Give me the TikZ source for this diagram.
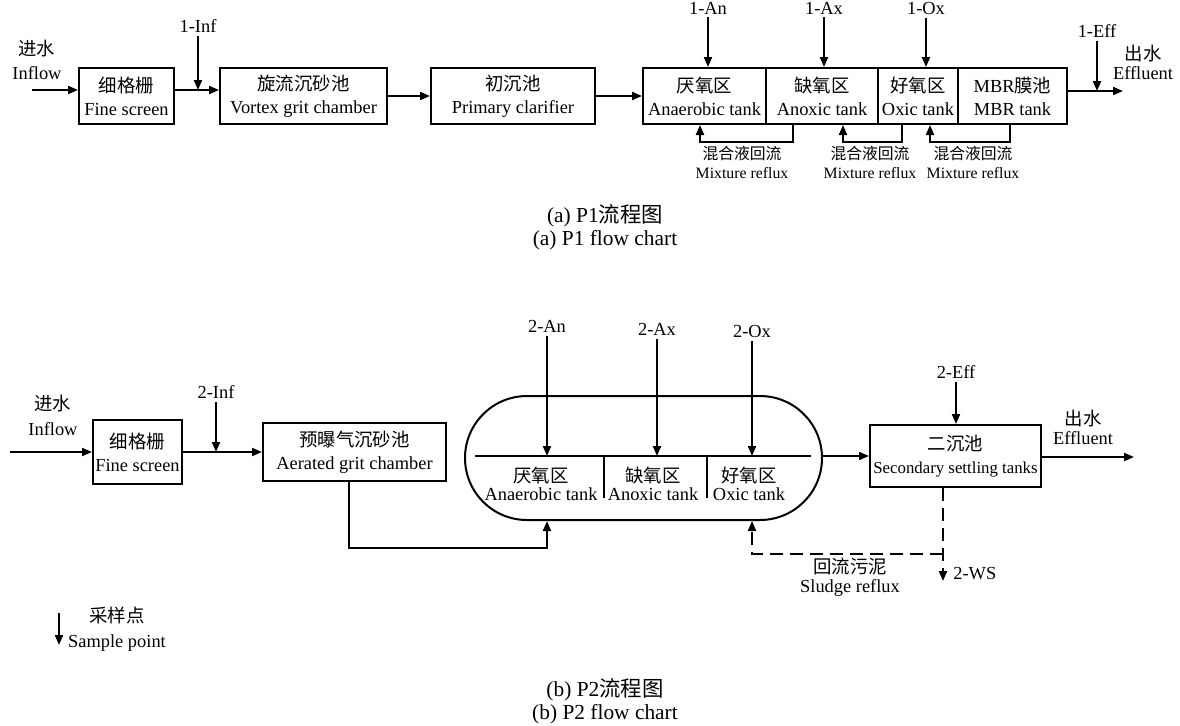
\documentclass[tikz,border=0pt]{standalone}
\usepackage{fontspec}
\setmainfont{Liberation Serif}
\newfontfamily\cjk{Noto Sans CJK SC}
\usepackage{tikz}
\usetikzlibrary{arrows.meta}
\newcommand{\zh}[1]{{\cjk #1}}
\newcommand{\fsp}[1]{\fontsize{9.2}{#1}\selectfont}
\newcommand{\fsmall}{\fontsize{7.9}{9.5}\selectfont}
\newcommand{\fcap}{\fontsize{10.7}{11.3}\selectfont}

\begin{document}
\begin{tikzpicture}[
    x=0.5pt, y=-0.5pt,
    every node/.style={font=\fsp{11.5}},
    box/.style={draw, line width=1pt, inner sep=0pt, align=center, minimum height=28pt},
    lbl/.style={inner sep=1.5pt, align=center},
    arr/.style={-{Triangle[length=5pt,width=4pt]}, line width=1pt},
    ln/.style={line width=1pt},
    dsh/.style={dash pattern=on 6.5pt off 3.5pt},
  ]
    \useasboundingbox (0,0) rectangle (1180,725);

    % (a) P1 process line
    \node[lbl, font=\fsp{12}] (inl1) at (37,60) {\zh{进水}\\Inflow};
    \coordinate (in1) at (32,90);
    \node[box, minimum width=47.5pt] (fs1) at (126.5,96) {\zh{细格栅}\\Fine screen};
    \node[box, minimum width=83.5pt] (vg) at (303.5,96) {\zh{旋流沉砂池}\\Vortex grit chamber};
    \node[box, minimum width=82pt] (pc) at (513,96) {\zh{初沉池}\\Primary clarifier};
    \node[box, minimum width=61.5pt] (an1) at (704.5,96) {\zh{厌氧区}\\Anaerobic tank};
    \node[box, minimum width=56pt] (ax1) at (822,96) {\zh{缺氧区}\\Anoxic tank};
    \node[box, minimum width=40pt] (ox1) at (918,96) {\zh{好氧区}\\Oxic tank};
    \node[box, minimum width=54.5pt] (mbr) at (1012.5,96) {MBR\zh{膜池}\\MBR tank};
    \node[lbl, font=\fsp{9.5}] (outl1) at (1143,62.5) {\zh{出水}\\Effluent};
    \coordinate (out1) at (1123,91);

    \draw[arr] (in1) -- (in1 -| fs1.west);
    \draw[arr] (fs1.east |- in1) -- (vg.west |- in1);
    \draw[arr] (vg) -- (pc);
    \draw[arr] (pc) -- (an1);
    \draw[arr] (mbr.east |- out1) -- (out1);

    % sample points P1
    \node[lbl] (inf1) at (198,26) {1-Inf};
    \node[lbl] (an1s) at (708,8) {1-An};
    \node[lbl] (ax1s) at (824,8) {1-Ax};
    \node[lbl] (ox1s) at (926,8) {1-Ox};
    \node[lbl] (eff1s) at (1097,31) {1-Eff};
    \draw[arr] (inf1) -- (inf1 |- in1);
    \draw[arr] (an1s) -- (an1s |- an1.north);
    \draw[arr] (ax1s) -- (ax1s |- ax1.north);
    \draw[arr] (ox1s) -- (ox1s |- ox1.north);
    \draw[arr] (eff1s) -- (eff1s |- out1);

    % mixture reflux loops
    \draw[arr] (ax1.south -| 793,0) -- ++(0,17) -| (an1.south -| 700,0);
    \draw[arr] (ox1.south -| 902,0) -- ++(0,17) -| (ax1.south -| 843,0);
    \draw[arr] (mbr.south -| 1010,0) -- ++(0,17) -| (ox1.south -| 930,0);
    \node[lbl, font=\fsmall] (mix1) at (742,162.5) {\zh{混合液回流}\\Mixture reflux};
    \node[lbl, font=\fsmall] (mix2) at (870,162.5) {\zh{混合液回流}\\Mixture reflux};
    \node[lbl, font=\fsmall] (mix3) at (973,162.5) {\zh{混合液回流}\\Mixture reflux};

    \node[lbl, font=\fcap] (capa) at (605,227.5) {(a) P1\zh{流程图}\\(a) P1 flow chart};

    % (b) P2 process line
    \node[lbl, font=\fsp{12.5}] (inl2) at (53,415.5) {\zh{进水}\\Inflow};
    \coordinate (in2) at (10,452);
    \node[box, minimum width=44.5pt, minimum height=32pt] (fs2) at (137.5,452) {\zh{细格栅}\\Fine screen};
    \node[box, minimum width=91.5pt, minimum height=29pt] (ag) at (354.5,452) {\zh{预曝气沉砂池}\\Aerated grit chamber};
    \node[draw, ln, rounded corners=31pt, minimum width=178.5pt, minimum height=62pt, inner sep=0pt] (ao) at (643.5,458) {};
    \coordinate (mid) at (643.5,456);
    \draw[ln] (475,456) -- (811,456);
    \draw[ln] (604,456) -- (604,498);
    \draw[ln] (707,456) -- (707,498);
    \node[lbl, font=\fsp{9}] (an2) at (541,484) {\zh{厌氧区}\\Anaerobic tank};
    \node[lbl, font=\fsp{9}] (ax2) at (653,484) {\zh{缺氧区}\\Anoxic tank};
    \node[lbl, font=\fsp{9}] (ox2) at (749,484) {\zh{好氧区}\\Oxic tank};
    \node[box, minimum width=85.5pt, minimum height=31pt] (st) at (955.5,456)
      {\zh{二沉池}\\{\fontsize{8.4}{11.5}\selectfont Secondary settling tanks}};
    \node[lbl, font=\fsp{9.5}] (outl2) at (1083,427.5) {\zh{出水}\\Effluent};
    \coordinate (out2) at (1134,457);

    \draw[arr] (in2) -- (fs2);
    \draw[arr] (fs2) -- (ag);
    \draw[arr] (ao.east |- mid) -- (st.west |- mid);
    \draw[arr] (st.east |- out2) -- (out2);

    % sample points P2
    \node[lbl] (inf2) at (216,392) {2-Inf};
    \node[lbl] (an2s) at (547,326) {2-An};
    \node[lbl] (ax2s) at (657,329) {2-Ax};
    \node[lbl] (ox2s) at (752,331) {2-Ox};
    \node[lbl] (eff2s) at (956,372) {2-Eff};
    \draw[arr] (inf2) -- (inf2 |- fs2.east);
    \draw[arr] (an2s) -- (an2s |- mid);
    \draw[arr] (ax2s) -- (ax2s |- mid);
    \draw[arr] (ox2s) -- (ox2s |- mid);
    \draw[arr] (eff2s) -- (eff2s |- st.north);

    % grit chamber to anaerobic zone, sludge return
    \draw[arr] (ag.south -| 349,0) |- (an2s |- 0,548) -- (an2s |- ao.south);
    \coordinate (ws) at (943,581);
    \coordinate (split) at (943,554);
    \draw[arr, dsh] (st.south -| ws) -- (ws);
    \draw[arr, dsh] (split) -| (ox2s |- ao.south);
    \node[lbl, anchor=west] (wsl) at (950,574) {2-WS};
    \node[lbl, font=\fsp{9.5}] (sludge) at (850,577.5) {\zh{回流污泥}\\Sludge reflux};

    % legend
    \coordinate (lg1) at (59,613);
    \coordinate (lg2) at (59,645);
    \draw[arr] (lg1) -- (lg2);
    \node[lbl, font=\fsp{12.5}] (leg) at (117,629.5) {\zh{采样点}\\Sample point};

    \node[lbl, font=\fcap] (capb) at (605,701) {(b) P2\zh{流程图}\\(b) P2 flow chart};
  \end{tikzpicture}
\end{document}
